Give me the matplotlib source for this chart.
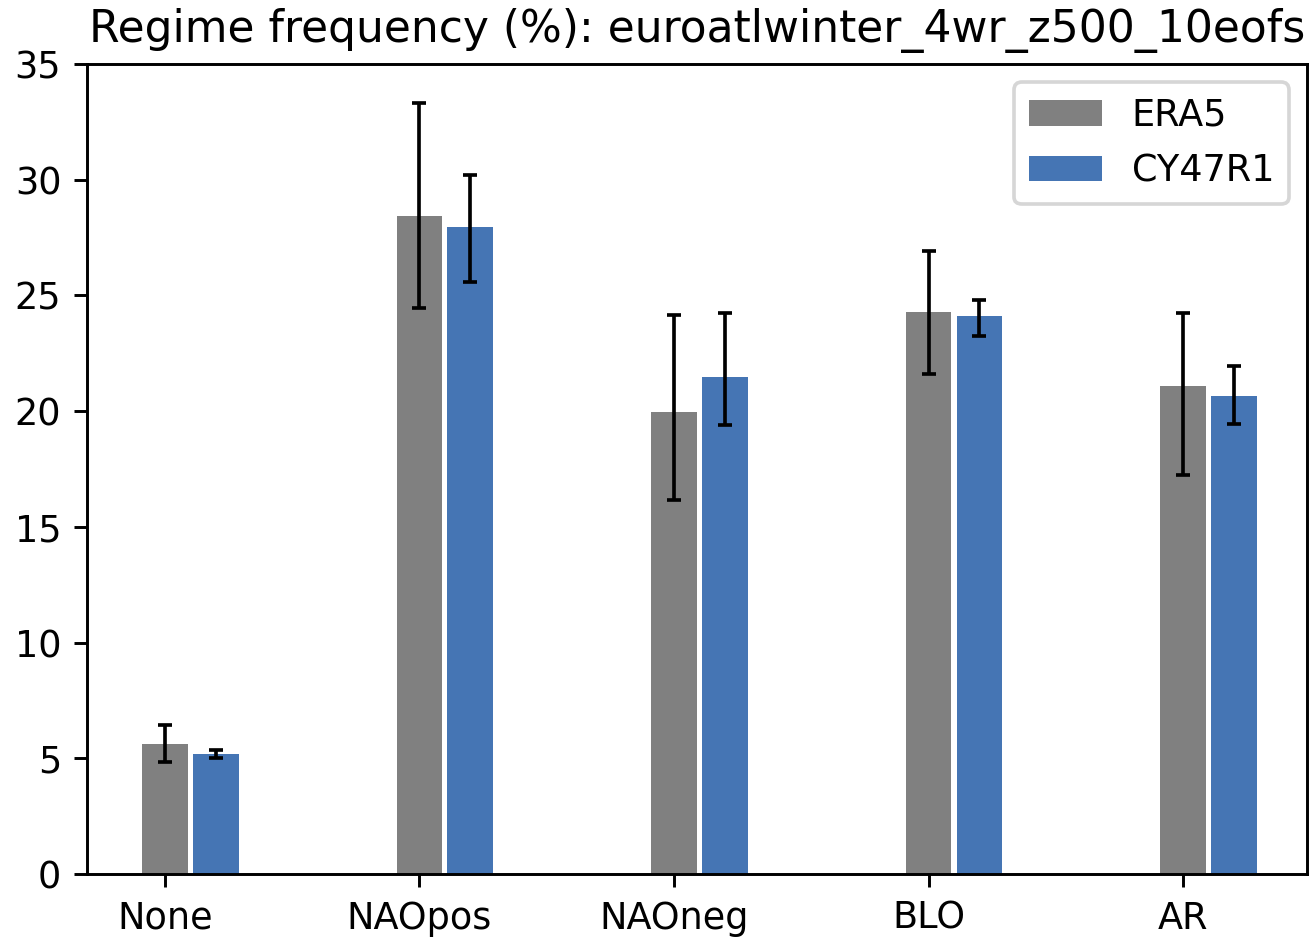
import numpy as np
import matplotlib
matplotlib.use("Agg")
import matplotlib.pyplot as plt

regimes = ["None", "NAOpos", "NAOneg", "BLO", "AR"]

era5_freq = [5.62, 28.44, 19.98, 24.29, 21.09]
era5_low = [4.84, 24.45, 16.16, 21.59, 17.23]
era5_high = [6.44, 33.33, 24.16, 26.92, 24.26]

cy47_freq = [5.19, 27.97, 21.49, 24.10, 20.66]
cy47_low = [5.00, 25.57, 19.42, 23.26, 19.45]
cy47_high = [5.36, 30.21, 24.26, 24.81, 21.95]

title = "Regime frequency (%): euroatlwinter_4wr_z500_10eofs"

dpi = 264
fig = plt.figure(figsize=(1312 / dpi, 937 / dpi), dpi=dpi)
ax = fig.add_axes([87 / 1312, 63 / 937, 1220 / 1312, 810 / 937])

x = np.arange(len(regimes))
w = 0.18


def errs(freq, low, high):
    f = np.array(freq)
    return np.vstack([f - np.array(low), np.array(high) - f])


ax.bar(x, era5_freq, width=w, color="#808080", label="ERA5",
       yerr=errs(era5_freq, era5_low, era5_high), capsize=2,
       error_kw=dict(elinewidth=1.0, capthick=1.0, ecolor="black"))
ax.bar(x + 0.2, cy47_freq, width=w, color="#4575b4", label="CY47R1",
       yerr=errs(cy47_freq, cy47_low, cy47_high), capsize=2,
       error_kw=dict(elinewidth=1.0, capthick=1.0, ecolor="black"))

ax.set_xticks(x)
ax.set_xticklabels(regimes)
ax.set_ylim(0, 35)
ax.set_xlim(-0.306, 4.487)
ax.set_title(title, fontsize=12)
ax.legend(loc="upper right")

fig.savefig("out.png", dpi=dpi)
